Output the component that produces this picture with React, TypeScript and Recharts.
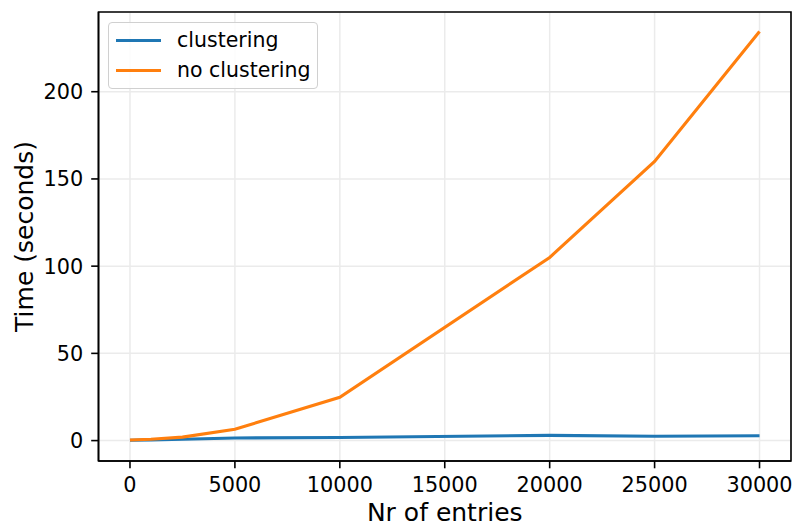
import React from 'react';
import { LineChart, Line, XAxis, YAxis, CartesianGrid, Legend, ReferenceArea } from 'recharts';

// number of entries per run
const ENTRIES = [0, 1000, 2500, 5000, 10000, 20000, 25000, 30000];
// time in seconds
const CLUSTERING = [0.2, 0.4, 0.8, 1.5, 1.8, 3.0, 2.5, 2.8];
const NO_CLUSTERING = [0.3, 0.8, 2.0, 6.5, 24.8, 105, 160, 234.5];

const X_TICKS = [0, 5000, 10000, 15000, 20000, 25000, 30000];
const Y_TICKS = [0, 50, 100, 150, 200];

const X_DOMAIN: [number, number] = [-1500, 31500];
const Y_DOMAIN: [number, number] = [-11.7, 245.7];

const FONT = '"DejaVu Sans", sans-serif';
const BLUE = '#1f77b4';
const ORANGE = '#ff7f0e';

const data = ENTRIES.map((n, i) => ({
  entries: n,
  clustering: CLUSTERING[i],
  noClustering: NO_CLUSTERING[i],
}));

const YAxisLabel = ({ viewBox }: any) => {
  const cx = viewBox.x + 24;
  const cy = viewBox.y + viewBox.height / 2;
  return (
    <text
      x={cx}
      y={cy}
      transform={`rotate(-90 ${cx} ${cy})`}
      textAnchor="middle"
      dominantBaseline="central"
      fontSize={25}
      fontFamily={FONT}
      fill="#000"
    >
      Time (seconds)
    </text>
  );
};

const XAxisLabel = ({ viewBox }: any) => {
  const cx = viewBox.x + viewBox.width / 2;
  return (
    <text x={cx} y={viewBox.y + 60} textAnchor="middle" fontSize={25} fontFamily={FONT} fill="#000">
      Nr of entries
    </text>
  );
};

const LegendBox = () => {
  const items = [
    { label: 'clustering', color: BLUE },
    { label: 'no clustering', color: ORANGE },
  ];
  return (
    <div
      style={{
        width: 210,
        height: 67,
        boxSizing: 'border-box',
        border: '1px solid #d0d0d0',
        borderRadius: 4,
        background: 'rgba(255,255,255,0.85)',
        padding: '2px 0 0 7px',
        fontFamily: FONT,
        fontSize: 20.5,
        color: '#000',
      }}
    >
      {items.map(it => (
        <div key={it.label} style={{ display: 'flex', alignItems: 'center', height: 30 }}>
          <div style={{ width: 45, height: 3, background: it.color, marginRight: 16 }} />
          <span style={{ lineHeight: '30px' }}>{it.label}</span>
        </div>
      ))}
    </div>
  );
};

export default function App() {
  return (
    <div style={{ position: 'absolute', left: 0, top: 0, background: '#fff' }}>
      <LineChart width={795} height={527} data={data} margin={{ top: 12, right: 4, left: 0, bottom: 0 }}>
        <CartesianGrid stroke="#ebebeb" strokeWidth={1.5} />
        <XAxis
          dataKey="entries"
          type="number"
          domain={X_DOMAIN}
          ticks={X_TICKS}
          allowDataOverflow
          height={66}
          tickSize={7.3}
          tickMargin={8.7}
          tick={{ fill: '#000', fontSize: 20.8, fontFamily: FONT }}
          tickLine={{ stroke: '#000', strokeWidth: 1.6 }}
          axisLine={{ stroke: '#000', strokeWidth: 1.6 }}
          label={<XAxisLabel />}
        />
        <YAxis
          type="number"
          domain={Y_DOMAIN}
          ticks={Y_TICKS}
          allowDataOverflow
          width={98.5}
          tickSize={7.3}
          tickMargin={7.9}
          tick={{ fill: '#000', fontSize: 20.8, fontFamily: FONT }}
          tickLine={{ stroke: '#000', strokeWidth: 1.6 }}
          axisLine={{ stroke: '#000', strokeWidth: 1.6 }}
          label={<YAxisLabel />}
        />
        <ReferenceArea
          x1={X_DOMAIN[0]}
          x2={X_DOMAIN[1]}
          y1={Y_DOMAIN[0]}
          y2={Y_DOMAIN[1]}
          fill="none"
          fillOpacity={0}
          stroke="#000"
          strokeWidth={1.6}
          ifOverflow="visible"
        />
        <Line
          dataKey="clustering"
          name="clustering"
          stroke={BLUE}
          strokeWidth={3.1}
          dot={false}
          isAnimationActive={false}
        />
        <Line
          dataKey="noClustering"
          name="no clustering"
          stroke={ORANGE}
          strokeWidth={3.1}
          dot={false}
          isAnimationActive={false}
        />
        <Legend
          layout="horizontal"
          align="center"
          verticalAlign="middle"
          wrapperStyle={{ top: 22, left: 108, width: 'auto' }}
          content={<LegendBox />}
        />
      </LineChart>
    </div>
  );
}
